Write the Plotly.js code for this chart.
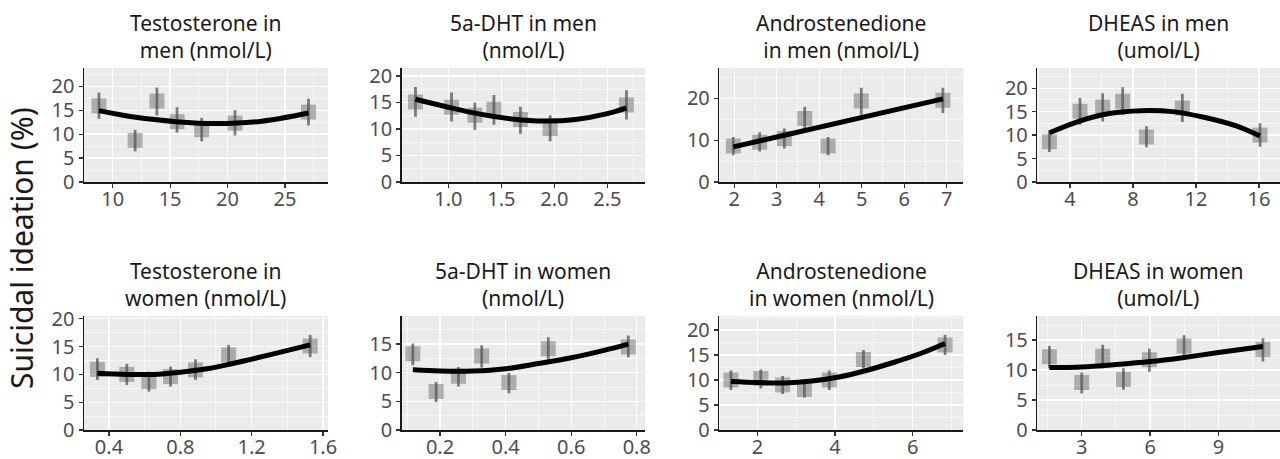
<!DOCTYPE html>
<html>
<head>
<meta charset="utf-8">
<script src="https://cdn.plot.ly/plotly-3.0.1.min.js"></script>
<style>html,body{margin:0;padding:0;background:#fff;}#chart{width:1280px;height:459px;}</style>
</head>
<body>
<div id="chart"></div>
<script>
// ---- Panel titles ----
const panelTitles = [
  "Testosterone in<br>men (nmol/L)",
  "5a-DHT in men<br>(nmol/L)",
  "Androstenedione<br>in men (nmol/L)",
  "DHEAS in men<br>(umol/L)",
  "Testosterone in<br>women (nmol/L)",
  "5a-DHT in women<br>(nmol/L)",
  "Androstenedione<br>in women (nmol/L)",
  "DHEAS in women<br>(umol/L)"
];

// ---- Data: testosterone men ----
const tMenX  = [8.8, 11.95, 13.85, 15.6, 17.75, 20.65, 27.05];
const tMenY  = [15.9, 8.7, 16.9, 12.6, 10.9, 12.3, 14.6];
const tMenLo = [13.2, 6.4, 13.9, 10.3, 8.5, 9.7, 11.8];
const tMenHi = [18.7, 10.9, 19.7, 15.6, 13.4, 15.0, 17.4];
const tMenFitX = [8.8, 12, 15.5, 19, 23, 27.05];
const tMenFitY = [14.9, 13.5, 12.6, 12.2, 12.7, 14.4];

// ---- Data: 5a-DHT men ----
const dhtMenX  = [0.69, 1.03, 1.25, 1.43, 1.68, 1.96, 2.68];
const dhtMenY  = [15.1, 14.1, 12.6, 13.7, 11.8, 10.1, 14.5];
const dhtMenLo = [12.3, 11.4, 9.8, 10.8, 9.1, 7.7, 11.8];
const dhtMenHi = [17.9, 16.9, 15.0, 16.4, 14.2, 12.6, 17.3];
const dhtMenFitX = [0.69, 1.0, 1.3, 1.6, 1.9, 2.2, 2.5, 2.68];
const dhtMenFitY = [15.6, 14.1, 12.8, 11.9, 11.5, 11.8, 12.9, 14.0];

// ---- Data: androstenedione men ----
const andMenX  = [1.98, 2.6, 3.18, 3.66, 4.21, 4.99, 6.91];
const andMenY  = [8.6, 9.5, 10.4, 15.2, 8.6, 19.4, 19.6];
const andMenLo = [6.4, 7.3, 8.0, 12.4, 6.4, 16.1, 16.5];
const andMenHi = [10.8, 11.9, 12.8, 18.0, 10.8, 22.6, 22.6];
const andMenFitX = [1.98, 6.91];
const andMenFitY = [8.4, 19.9];

// ---- Data: DHEAS men ----
const dheaMenX  = [2.69, 4.63, 6.07, 7.34, 8.85, 11.13, 16.06];
const dheaMenY  = [8.6, 15.1, 16.0, 17.2, 9.6, 15.8, 10.0];
const dheaMenLo = [6.4, 12.2, 12.9, 14.3, 7.4, 12.8, 7.5];
const dheaMenHi = [10.8, 17.9, 18.9, 20.2, 11.9, 18.8, 12.5];
const dheaMenFitX = [2.69, 4.6, 6.5, 8.5, 10.5, 12.5, 14.5, 16.06];
const dheaMenFitY = [10.5, 13.0, 14.6, 15.2, 15.0, 13.8, 12.0, 9.8];

// ---- Data: testosterone women ----
const tWomX  = [0.335, 0.5, 0.624, 0.745, 0.885, 1.071, 1.528];
const tWomY  = [10.9, 10.0, 8.7, 9.6, 10.8, 13.5, 15.1];
const tWomLo = [9.0, 8.1, 6.9, 7.8, 9.0, 11.4, 13.1];
const tWomHi = [12.9, 11.9, 10.5, 11.4, 12.7, 15.3, 17.1];
const tWomFitX = [0.335, 0.5, 0.65, 0.8, 0.95, 1.1, 1.3, 1.528];
const tWomFitY = [10.2, 10.0, 10.0, 10.4, 11.0, 12.0, 13.5, 15.3];

// ---- Data: 5a-DHT women ----
const dhtWomX  = [0.117, 0.188, 0.256, 0.327, 0.41, 0.53, 0.774];
const dhtWomY  = [13.3, 6.7, 9.4, 12.9, 8.3, 14.2, 14.5];
const dhtWomLo = [11.3, 4.9, 7.6, 10.9, 6.4, 12.3, 12.7];
const dhtWomHi = [15.1, 8.4, 11.0, 14.8, 10.0, 16.2, 16.5];
const dhtWomFitX = [0.117, 0.2, 0.3, 0.4, 0.5, 0.6, 0.7, 0.774];
const dhtWomFitY = [10.5, 10.3, 10.3, 10.7, 11.6, 12.6, 13.9, 15.0];

// ---- Data: androstenedione women ----
const andWomX  = [1.32, 2.09, 2.65, 3.21, 3.85, 4.73, 6.83];
const andWomY  = [10.0, 10.3, 9.0, 8.1, 10.0, 14.1, 17.0];
const andWomLo = [8.0, 8.3, 7.2, 6.5, 8.0, 12.3, 15.0];
const andWomHi = [11.9, 12.1, 10.8, 10.0, 11.9, 16.0, 19.0];
const andWomFitX = [1.32, 2.0, 2.7, 3.4, 4.1, 4.8, 5.5, 6.2, 6.83];
const andWomFitY = [9.7, 9.5, 9.4, 9.8, 10.6, 11.9, 13.5, 15.3, 17.3];

// ---- Data: DHEAS women ----
const dheaWomX  = [1.58, 3.0, 3.92, 4.83, 5.97, 7.49, 10.95];
const dheaWomY  = [12.2, 7.9, 12.3, 8.4, 11.7, 14.0, 13.4];
const dheaWomLo = [10.3, 6.1, 10.3, 6.7, 9.7, 11.9, 11.4];
const dheaWomHi = [14.0, 9.6, 14.2, 10.3, 13.6, 15.8, 15.3];
const dheaWomFitX = [1.58, 3, 4.5, 6, 7.5, 9, 10.95];
const dheaWomFitY = [10.4, 10.5, 10.9, 11.4, 12.1, 12.9, 13.9];

// ---- Axis tick settings ----
const xTickSteps = [5, 0.5, 1, 4, 0.4, 0.2, 2, 3];
const xTickFormats = ["", ".1f", "", "", ".1f", ".1f", "", ""];
const yTickSteps = [5, 5, 10, 5, 5, 5, 5, 5];

// ---- Layout geometry (pixels) ----
const W = 1280, H = 459;
const colPx = [[84, 328], [401.7, 645], [719.3, 963.3], [1037.3, 1280]];
const rowPx = [[68, 182], [316, 430]];
const xRanges = [[7.5, 28.75], [0.56, 2.855], [1.65, 7.39], [1.92, 17.33],
                 [0.26, 1.628], [0.083, 0.825], [1.02, 7.30], [1.05, 11.7]];
const yRanges = [[0, 23.8], [0, 21.5], [0, 27.3], [0, 24.3],
                 [0, 20.5], [0, 19.9], [0, 22.8], [0, 19.0]];

const panels = [
  [tMenX, tMenY, tMenLo, tMenHi, tMenFitX, tMenFitY],
  [dhtMenX, dhtMenY, dhtMenLo, dhtMenHi, dhtMenFitX, dhtMenFitY],
  [andMenX, andMenY, andMenLo, andMenHi, andMenFitX, andMenFitY],
  [dheaMenX, dheaMenY, dheaMenLo, dheaMenHi, dheaMenFitX, dheaMenFitY],
  [tWomX, tWomY, tWomLo, tWomHi, tWomFitX, tWomFitY],
  [dhtWomX, dhtWomY, dhtWomLo, dhtWomHi, dhtWomFitX, dhtWomFitY],
  [andWomX, andWomY, andWomLo, andWomHi, andWomFitX, andWomFitY],
  [dheaWomX, dheaWomY, dheaWomLo, dheaWomHi, dheaWomFitX, dheaWomFitY]
];

const FONT = "'Noto Sans', Lato, sans-serif";
const traces = [];
const layout = {
  width: W, height: H,
  margin: {l: 0, r: 0, t: 0, b: 0},
  paper_bgcolor: "#ffffff",
  plot_bgcolor: "#EBEBEB",
  showlegend: false,
  font: {family: FONT, color: "#4D4D4D"},
  annotations: []
};

panels.forEach((p, i) => {
  const n = i + 1;
  const xa = n === 1 ? "x" : "x" + n;
  const ya = n === 1 ? "y" : "y" + n;
  const [px, py, lo, hi, fx, fy] = p;
  traces.push({
    type: "scatter", mode: "markers", x: px, y: py, xaxis: xa, yaxis: ya,
    marker: {symbol: "square", size: 15, color: "rgba(85,85,85,0.42)", line: {width: 0}},
    error_y: {type: "data", symmetric: false,
      array: hi.map((h, k) => h - py[k]), arrayminus: lo.map((l, k) => py[k] - l),
      width: 0, thickness: 2.8, color: "rgba(30,30,30,0.55)"},
    hoverinfo: "skip"
  });
  traces.push({
    type: "scatter", mode: "lines", x: fx, y: fy, xaxis: xa, yaxis: ya,
    line: {color: "#000000", width: 5, shape: "spline", smoothing: 1},
    hoverinfo: "skip"
  });
  const col = i % 4, row = Math.floor(i / 4);
  const xd = [colPx[col][0] / W, colPx[col][1] / W];
  const yd = [1 - rowPx[row][1] / H, 1 - rowPx[row][0] / H];
  const common = {
    showline: true, linecolor: "#1a1a1a", linewidth: 1.5,
    ticks: "outside", ticklen: 4, tickwidth: 1.2, tickcolor: "#333333",
    tickfont: {family: FONT, size: 20, color: "#4D4D4D"},
    showgrid: true, gridcolor: "#ffffff", gridwidth: 1.3,
    zeroline: false, mirror: false
  };
  layout[n === 1 ? "xaxis" : "xaxis" + n] = Object.assign({}, common, {
    domain: xd, anchor: ya, range: xRanges[i], dtick: xTickSteps[i],
    tick0: 0, tickformat: xTickFormats[i], ticklabelstandoff: -6,
    minor: {showgrid: true, gridcolor: "#ffffff", gridwidth: 0.6, ticks: "",
            dtick: xTickSteps[i] / 2, tick0: 0}
  });
  layout[n === 1 ? "yaxis" : "yaxis" + n] = Object.assign({}, common, {
    domain: yd, anchor: xa, range: yRanges[i], dtick: yTickSteps[i], tick0: 0,
    ticklabelstandoff: 0,
    minor: {showgrid: true, gridcolor: "#ffffff", gridwidth: 0.6, ticks: "",
            dtick: yTickSteps[i] / 2, tick0: 0}
  });
  layout.annotations.push({
    xref: "paper", yref: "paper", x: (xd[0] + xd[1]) / 2, y: yd[1],
    xanchor: "center", yanchor: "bottom", yshift: 2, showarrow: false,
    text: panelTitles[i], align: "center",
    font: {family: FONT, size: 21, color: "#1a1a1a"}
  });
});

layout.annotations.push({
  xref: "paper", yref: "paper", x: 21 / W, y: 1 - 248 / H,
  xanchor: "center", yanchor: "middle", textangle: -90, showarrow: false,
  text: "Suicidal ideation (%)",
  font: {family: FONT, size: 30, color: "#1a1a1a"}
});

Plotly.newPlot("chart", traces, layout, {staticPlot: true, displayModeBar: false});
</script>
</body>
</html>
